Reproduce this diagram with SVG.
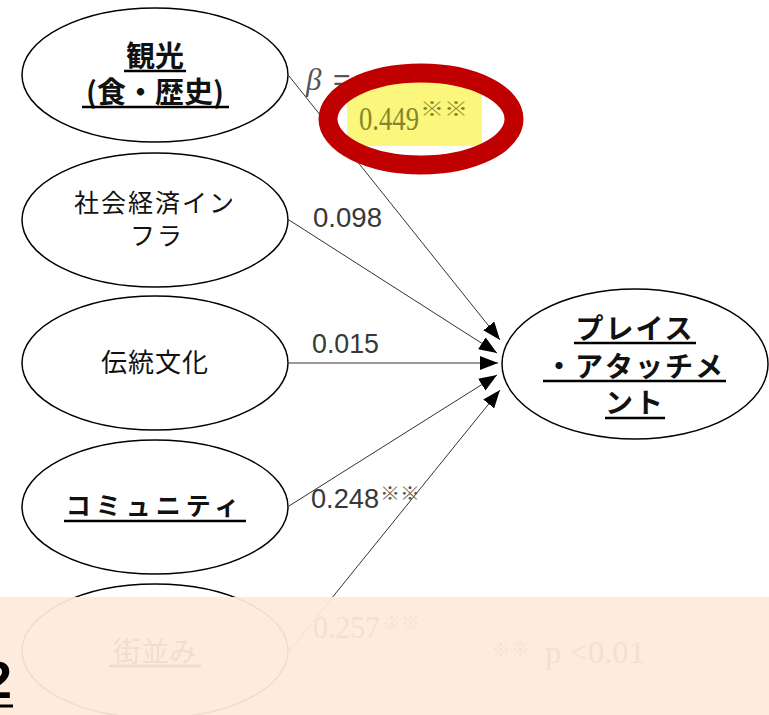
<svg xmlns="http://www.w3.org/2000/svg" width="769" height="715" viewBox="0 0 769 715">
  <defs>
    <marker id="arr" markerUnits="userSpaceOnUse" markerWidth="18" markerHeight="14" refX="18" refY="7" orient="auto">
      <path d="M0,0 L18,7 L0,14 z" fill="#000"/>
    </marker>
    <style>
      .node { fill: #fff; stroke: #000; stroke-width: 1.5; }
      .jp { font-family: "Noto Sans CJK JP", "Noto Sans", sans-serif; fill: #111; text-anchor: middle; }
      .b { font-weight: 700; }
      .ul { stroke: #000; stroke-width: 2.5; }
      .conn { stroke: #333; stroke-width: 1; fill: none; marker-end: url(#arr); }
      .num { font-family: "Liberation Sans", Arial, sans-serif; font-size: 28px; fill: #383838; }
      .kome { font-family: "Noto Sans CJK JP", sans-serif; font-size: 18px; fill: #555; }
    </style>
  </defs>
  <rect width="769" height="715" fill="#fff"/>

  <g id="connectors">
    <line class="conn" x1="289" y1="76" x2="500" y2="340"/>
    <line class="conn" x1="289" y1="220" x2="497" y2="353"/>
    <line class="conn" x1="289" y1="363" x2="498" y2="363"/>
    <line class="conn" x1="289" y1="506" x2="497" y2="375"/>
    <line class="conn" x1="289" y1="651" x2="500" y2="390"/>
  </g>

  <g id="node-kanko">
    <ellipse class="node" cx="155" cy="75" rx="133" ry="67"/>
    <text class="jp b" x="155" y="67" font-size="29">観光</text>
    <text class="jp b" x="155" y="103" font-size="29">(食・歴史)</text>
    <line class="ul" x1="124" y1="71" x2="186" y2="71"/>
    <line class="ul" x1="82" y1="107" x2="229" y2="107"/>
  </g>

  <g id="node-infra">
    <ellipse class="node" cx="155" cy="220" rx="133" ry="67"/>
    <text class="jp" x="155" y="212" font-size="25" letter-spacing="2">社会経済イン</text>
    <text class="jp" x="157" y="245" font-size="25" letter-spacing="2">フラ</text>
  </g>

  <g id="node-dento">
    <ellipse class="node" cx="155" cy="363" rx="133" ry="67"/>
    <text class="jp" x="155" y="372" font-size="26" letter-spacing="1">伝統文化</text>
  </g>

  <g id="node-community">
    <ellipse class="node" cx="155" cy="507" rx="133" ry="67"/>
    <text class="jp b" x="155" y="515" font-size="25" letter-spacing="5">コミュニティ</text>
    <line class="ul" x1="64" y1="521" x2="246" y2="521"/>
  </g>

  <g id="node-machinami">
    <ellipse class="node" cx="155" cy="651" rx="133" ry="67"/>
    <text class="jp" x="155" y="662" font-size="28">街並み</text>
    <line class="ul" x1="109" y1="666" x2="201" y2="666" stroke-width="1.5"/>
  </g>

  <g id="node-place">
    <ellipse class="node" cx="635" cy="364" rx="133" ry="75"/>
    <text class="jp b" x="635" y="339" font-size="28" letter-spacing="2">プレイス</text>
    <line class="ul" x1="574" y1="343" x2="696" y2="343"/>
    <text class="jp b" x="635" y="377" font-size="28" letter-spacing="2">・アタッチメ</text>
    <line class="ul" x1="543" y1="381" x2="726" y2="381"/>
    <text class="jp b" x="635" y="413" font-size="28" letter-spacing="2">ント</text>
    <line class="ul" x1="605" y1="418" x2="665" y2="418"/>
  </g>

  <g id="labels">
    <text x="306" y="90" font-family="Liberation Serif, serif" font-size="31" font-style="italic" fill="#555">β</text>
    <text x="333" y="90" font-family="Liberation Sans, sans-serif" font-size="30" fill="#555">=</text>
    <text class="num" x="313" y="227" textLength="69" lengthAdjust="spacingAndGlyphs">0.098</text>
    <text class="num" x="312" y="353" textLength="67" lengthAdjust="spacingAndGlyphs">0.015</text>
    <text class="num" x="311" y="508" textLength="68" lengthAdjust="spacingAndGlyphs">0.248</text>
    <text class="kome" x="380" y="500" textLength="40" lengthAdjust="spacingAndGlyphs">※※</text>
    <text x="313" y="638" font-family="Liberation Serif, serif" font-size="31" fill="#333" textLength="67" lengthAdjust="spacingAndGlyphs">0.257</text>
    <text class="kome" x="382" y="630" textLength="38" lengthAdjust="spacingAndGlyphs">※※</text>
    <text class="kome" x="491" y="656" textLength="39" lengthAdjust="spacingAndGlyphs">※※</text>
    <text x="545" y="663" font-family="Liberation Serif, serif" font-size="31" fill="#333" textLength="100" lengthAdjust="spacingAndGlyphs">p &lt;0.01</text>
  </g>

  <g id="highlight">
    <rect x="347" y="82" width="135" height="64" fill="#fbf67c"/>
    <text x="359" y="130" font-family="Liberation Serif, serif" font-size="33" fill="#85862c" textLength="60" lengthAdjust="spacingAndGlyphs">0.449</text>
    <text x="420" y="116" font-family="Noto Sans CJK JP, sans-serif" font-size="19" fill="#85862c" textLength="48" lengthAdjust="spacingAndGlyphs">※※</text>
    <ellipse cx="421" cy="119" rx="93" ry="46" fill="none" stroke="#c00000" stroke-width="19"/>
  </g>

  <rect id="overlay" x="0" y="597" width="769" height="118" fill="#fdeadb" fill-opacity="0.94"/>

  <g id="edge-glyph">
    <text x="-17" y="698" font-family="Liberation Sans, sans-serif" font-size="52" font-weight="700" fill="#000">2</text>
    <line x1="0" y1="706" x2="13" y2="706" stroke="#000" stroke-width="3"/>
  </g>
</svg>
